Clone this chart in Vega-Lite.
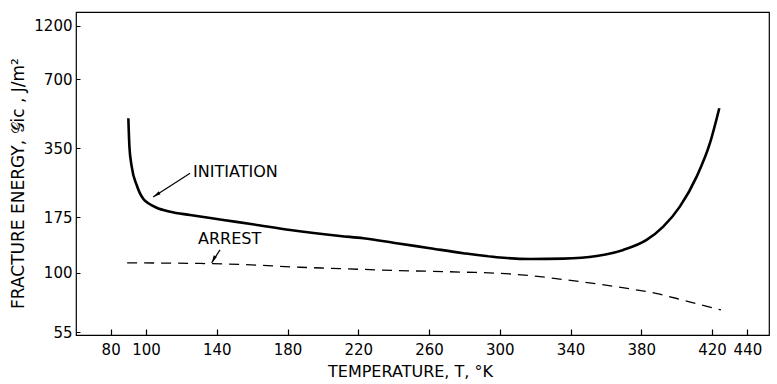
{
  "$schema": "https://vega.github.io/schema/vega-lite/v6.json",
  "autosize": "none",
  "width": 693,
  "height": 323,
  "padding": {"left": 76, "top": 12, "right": 8, "bottom": 49},
  "background": "white",
  "config": {
    "view": {"stroke": "black", "strokeWidth": 1.2},
    "font": "DejaVu Sans",
    "axis": {
      "domain": false,
      "grid": false,
      "tickColor": "black",
      "labelColor": "black",
      "titleColor": "black",
      "labelFont": "DejaVu Sans",
      "titleFont": "DejaVu Sans",
      "titleFontWeight": "normal",
      "labelFontSize": 15,
      "titleFontSize": 15
    }
  },
  "datasets": {
    "initiation": [
      {"T": 90.0, "G": 473},
      {"T": 90.6, "G": 356},
      {"T": 91.9, "G": 291},
      {"T": 94.7, "G": 242},
      {"T": 98.5, "G": 210},
      {"T": 101.5, "G": 201},
      {"T": 105.7, "G": 193},
      {"T": 113.6, "G": 185},
      {"T": 124.9, "G": 179},
      {"T": 143.7, "G": 170.3},
      {"T": 162.6, "G": 162.0},
      {"T": 181.5, "G": 154.0},
      {"T": 209.7, "G": 145.0},
      {"T": 222.8, "G": 141.7},
      {"T": 241.7, "G": 134.8},
      {"T": 260.5, "G": 128.2},
      {"T": 279.4, "G": 121.9},
      {"T": 298.2, "G": 117.1},
      {"T": 317.1, "G": 115.1},
      {"T": 335.9, "G": 115.5},
      {"T": 354.8, "G": 118.6},
      {"T": 369.8, "G": 126.0},
      {"T": 383.0, "G": 139.3},
      {"T": 392.4, "G": 159.2},
      {"T": 401.8, "G": 194.7},
      {"T": 411.3, "G": 263.2},
      {"T": 418.8, "G": 368.1},
      {"T": 424.1, "G": 523.1}
    ],
    "arrest": [
      {"T": 89.3, "G": 110.6},
      {"T": 130.5, "G": 110.0},
      {"T": 153.1, "G": 108.9},
      {"T": 187.1, "G": 105.9},
      {"T": 204.0, "G": 104.8},
      {"T": 241.7, "G": 102.5},
      {"T": 279.4, "G": 100.8},
      {"T": 300.0, "G": 99.6},
      {"T": 317.0, "G": 97.4},
      {"T": 335.0, "G": 93.8},
      {"T": 355.0, "G": 89.6},
      {"T": 373.0, "G": 85.4},
      {"T": 389.0, "G": 81.2},
      {"T": 405.0, "G": 75.6},
      {"T": 425.0, "G": 69.0}
    ],
    "notes": [
      {"label": "INITIATION", "T": 126.6, "G": 275.9, "T0": 124.9, "G0": 272.3, "T1": 104.0, "G1": 214.6},
      {"label": "ARREST", "T": 129.4, "G": 140.0, "T0": 141.8, "G0": 126.0, "T1": 137.1, "G1": 110.6}
    ]
  },
  "resolve": {"axis": {"x": "independent", "y": "independent"}},
  "layer": [
    {
      "data": {"name": "initiation"},
      "mark": {"type": "line", "color": "black", "strokeWidth": 2.6, "interpolate": "monotone"},
      "encoding": {
        "x": {
          "field": "T",
          "type": "quantitative",
          "scale": {"domain": [60.4, 452.2], "nice": false, "zero": false},
          "axis": {
            "title": "TEMPERATURE, T, °K",
            "titleFontSize": 16,
            "values": [80, 100, 140, 180, 220, 260, 300, 340, 380, 420, 440],
            "format": "d",
            "ticks": false,
            "labelPadding": 7,
            "titleX": 334,
            "titleY": 41,
            "titleBaseline": "alphabetic",
            "titleAnchor": null
          }
        },
        "y": {
          "field": "G",
          "type": "quantitative",
          "scale": {"type": "log", "domain": [53.6, 1376], "nice": false},
          "axis": {
            "title": "FRACTURE ENERGY, 𝒢ic , J/m²",
            "titleFontSize": 17,
            "values": [55, 100, 175, 350, 700, 1200],
            "format": "d",
            "ticks": false,
            "labelPadding": 4,
            "titleAngle": 270,
            "titleX": -58,
            "titleY": 171,
            "titleAlign": "center",
            "titleBaseline": "middle"
          }
        }
      }
    },
    {
      "data": {"name": "arrest"},
      "mark": {"type": "line", "color": "black", "strokeWidth": 1.3, "strokeDash": [10, 7], "interpolate": "monotone"},
      "encoding": {
        "x": {
          "field": "T",
          "type": "quantitative",
          "scale": {"domain": [60.4, 452.2], "nice": false, "zero": false},
          "axis": {
            "orient": "top",
            "offset": -323,
            "values": [80, 100, 140, 180, 220, 260, 300, 340, 380, 420, 440],
            "labels": false,
            "title": null,
            "ticks": true,
            "tickSize": 6,
            "tickWidth": 1.2
          }
        },
        "y": {
          "field": "G",
          "type": "quantitative",
          "scale": {"type": "log", "domain": [53.6, 1376], "nice": false},
          "axis": {
            "orient": "right",
            "offset": -693,
            "values": [55, 100, 175, 350, 700, 1200],
            "labels": false,
            "title": null,
            "ticks": true,
            "tickSize": 4,
            "tickWidth": 1
          }
        }
      }
    },
    {
      "data": {"name": "notes"},
      "mark": {"type": "rule", "color": "black", "strokeWidth": 1.2},
      "encoding": {
        "x": {"field": "T0", "type": "quantitative", "axis": null},
        "y": {"field": "G0", "type": "quantitative", "axis": null},
        "x2": {"field": "T1"},
        "y2": {"field": "G1"}
      }
    },
    {
      "data": {"name": "notes"},
      "mark": {"type": "point", "filled": true, "color": "black", "opacity": 1, "size": 60, "shape": "M0,0L-0.45,2L0.45,2Z"},
      "encoding": {
        "x": {"field": "T1", "type": "quantitative", "axis": null},
        "y": {"field": "G1", "type": "quantitative", "axis": null},
        "angle": {"field": "label", "type": "nominal", "scale": {"domain": ["INITIATION", "ARREST"], "range": [237, 208]}, "legend": null}
      }
    },
    {
      "data": {"name": "notes"},
      "mark": {"type": "text", "align": "left", "baseline": "middle", "fontSize": 16, "font": "DejaVu Sans", "color": "black"},
      "encoding": {
        "x": {"field": "T", "type": "quantitative", "axis": null},
        "y": {"field": "G", "type": "quantitative", "axis": null},
        "text": {"field": "label"}
      }
    }
  ]
}
